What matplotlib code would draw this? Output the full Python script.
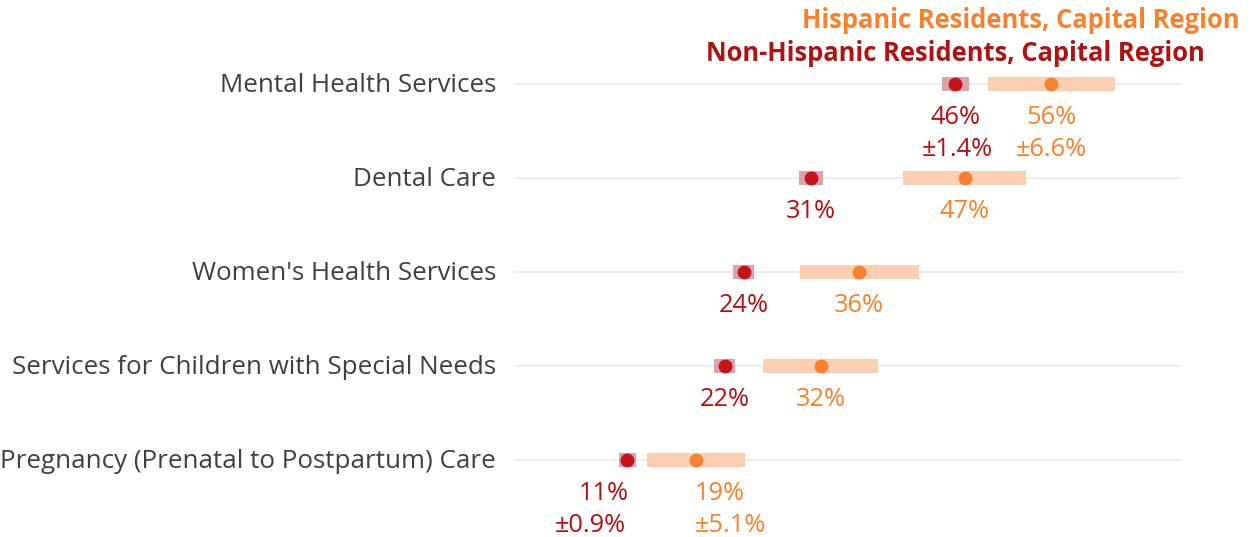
import matplotlib
matplotlib.use("Agg")
import matplotlib.pyplot as plt

categories = ["Mental Health Services", "Dental Care", "Women's Health Services",
              "Services for Children with Special Needs",
              "Pregnancy (Prenatal to Postpartum) Care"]
hisp_values = [56, 47, 36, 32, 19]
hisp_moe = [6.6, 6.4, 6.2, 6.0, 5.1]
hisp_labels = ["56%", "47%", "36%", "32%", "19%"]
hisp_moe_labels = ["±6.6%", "", "", "", "±5.1%"]
nonhisp_values = [46, 31, 24, 22, 11.9]
nonhisp_moe = [1.4, 1.25, 1.1, 1.1, 0.9]
nonhisp_labels = ["46%", "31%", "24%", "22%", "11%"]
nonhisp_moe_labels = ["±1.4%", "", "", "", "±0.9%"]

ORANGE = "#F7812F"
ORANGE_BAR = "#FCCFB0"
RED_TXT = "#B01212"
RED_DOT = "#C5141A"
RED_BAR = "#DDA3AA"

plt.rcParams['font.family'] = ['Open Sans', 'DejaVu Sans']

W, H = 1252, 537
fig = plt.figure(figsize=(W / 100, H / 100), dpi=100)
x0, x1 = 513, 1186
ax = fig.add_axes([x0 / W, 0, (x1 - x0) / W, 1])
row0, step = 84, 94
ax.set_ylim((H - row0) / step, -row0 / step)
ax.set_xlim(0, 70)
ax.axis("off")

VS = 18.3
n = len(categories)
for i in range(n):
    ax.plot([0.2, 69.5], [i, i], color="#EDEDED", lw=1.5, zorder=0)
    ax.barh(i, 2 * hisp_moe[i], left=hisp_values[i] - hisp_moe[i], height=0.15,
            color=ORANGE_BAR, zorder=1)
    ax.barh(i, 2 * nonhisp_moe[i], left=nonhisp_values[i] - nonhisp_moe[i], height=0.15,
            color=RED_BAR, zorder=1)
    ax.plot(hisp_values[i], i, "o", ms=10, color=ORANGE, mec="none", zorder=3)
    ax.plot(nonhisp_values[i], i, "o", ms=10, color=RED_DOT, mec="none", zorder=3)

    last = (i == n - 1)
    ha_r = "right" if last else "center"
    ha_o = "left" if last else "center"
    xr = nonhisp_values[i] + (0.1 if last else 0)
    xo = hisp_values[i] - (0.1 if last else 0)
    ax.text(xr, i + 0.36, nonhisp_labels[i], ha=ha_r, va="center", fontsize=VS, color=RED_TXT)
    ax.text(xo, i + 0.36, hisp_labels[i], ha=ha_o, va="center", fontsize=VS, color=ORANGE)
    if nonhisp_moe_labels[i]:
        ax.text(xr - (0.3 if last else -0.2), i + 0.70, nonhisp_moe_labels[i], ha=ha_r, va="center",
                fontsize=VS, color=RED_TXT)
    if hisp_moe_labels[i]:
        ax.text(xo, i + 0.70, hisp_moe_labels[i], ha=ha_o, va="center", fontsize=VS, color=ORANGE)

    fig.text(496 / W, 1 - (row0 + 2 + step * i) / H, categories[i], ha="right", va="center",
             fontsize=18.7, color="#404040")

fig.text(1240 / W, 1 - 21 / H, "Hispanic Residents, Capital Region", ha="right", va="center",
         fontsize=18.4, fontweight="bold", color=ORANGE)
fig.text(1205 / W, 1 - 53 / H, "Non-Hispanic Residents, Capital Region", ha="right", va="center",
         fontsize=18.4, fontweight="bold", color=RED_TXT)

fig.savefig("out.png", dpi=100)
